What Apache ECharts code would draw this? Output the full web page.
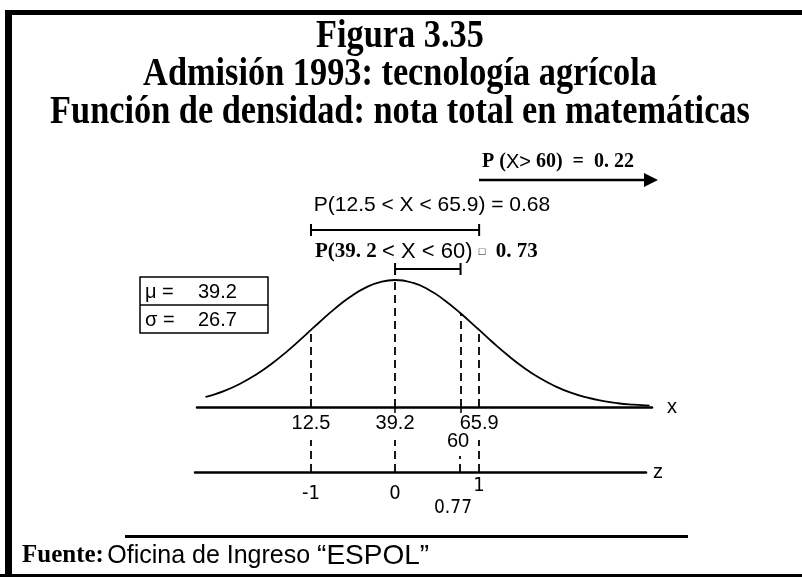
<!DOCTYPE html>
<html>
<head>
<meta charset="utf-8">
<script src="https://cdn.jsdelivr.net/npm/echarts@6/dist/echarts.min.js"></script>
<style>
  html, body { margin: 0; padding: 0; background: #fff; }
  #chart { width: 802px; height: 578px; }
</style>
</head>
<body>
<div id="chart"></div>
<script>
// curve: nota (x) and density x100
const curveX = [-21, -20, -15, -10, -5, 0, 5, 10, 12.5, 15, 20, 25, 30, 35, 39.2, 45, 50, 55, 60, 65, 65.9, 70, 75, 80, 85, 90, 95, 100, 105, 110, 115, 120];
const curveY = [0.118, 0.128, 0.190, 0.274, 0.380, 0.508, 0.658, 0.822, 0.907, 0.991, 1.154, 1.297, 1.408, 1.476, 1.494, 1.459, 1.377, 1.254, 1.103, 0.937, 0.907, 0.768, 0.608, 0.465, 0.343, 0.245, 0.168, 0.112, 0.072, 0.044, 0.027, 0.015];

const mu = '39.2';
const sigma = '26.7';
const cutX = [12.5, 39.2, 60, 65.9];
const cutZ = [-1, 0, 0.77, 1];
const xTickValues = [12.5, 39.2, 65.9];
const zTickValues = [-1, 0, 1];
const brackets = [[12.5, 65.9], [39.2, 60]];
const titleLines = ['Figura 3.35', 'Admisión 1993: tecnología agrícola', 'Función de densidad: nota total en matemáticas'];

const SERIF = '"Liberation Serif", "Times New Roman", serif';
const SANS = '"Liberation Sans", Arial, sans-serif';
const NARROW = '"Liberation Sans Narrow", "DejaVu Sans Condensed", "Liberation Sans", sans-serif';

const chart = echarts.init(document.getElementById('chart'));

const dashed = { color: '#000', type: [8, 5], width: 1.8 };

function txt(x, y, text, font, align, extra) {
  return Object.assign({
    type: 'text', x: x, y: y, silent: true,
    style: { text: text, font: font, fill: '#000', align: align || 'left', verticalAlign: 'middle', textAlign: align || 'left', textVerticalAlign: 'middle' }
  }, extra || {});
}

const graphics = [
  // frame
  { type: 'rect', shape: { x: 5, y: 10, width: 7, height: 567 }, style: { fill: '#000' }, silent: true },
  { type: 'rect', shape: { x: 5, y: 10, width: 797, height: 5 }, style: { fill: '#000' }, silent: true },
  { type: 'rect', shape: { x: 0, y: 574, width: 802, height: 3 }, style: { fill: '#000' }, silent: true },
  // footer rule
  { type: 'rect', shape: { x: 125, y: 535, width: 563, height: 3 }, style: { fill: '#000' }, silent: true },
  // P(X > 60) arrow
  { type: 'line', shape: { x1: 479, y1: 180, x2: 648, y2: 180 }, style: { stroke: '#000', lineWidth: 2.5 }, silent: true },
  { type: 'polygon', shape: { points: [[644, 173], [658, 180], [644, 187]] }, style: { fill: '#000' }, silent: true },
  // mu / sigma box
  { type: 'rect', shape: { x: 140, y: 277, width: 128, height: 56 }, style: { fill: 'none', stroke: '#000', lineWidth: 1.5 }, silent: true },
  { type: 'line', shape: { x1: 140, y1: 305, x2: 268, y2: 305 }, style: { stroke: '#000', lineWidth: 1.5 }, silent: true }
];

titleLines.forEach(function (t, i) {
  graphics.push(txt(400, 37 + i * 38, t, 'bold 39px ' + SERIF, 'center', { scaleX: 0.88 }));
});

graphics.push(txt(145, 292, 'μ =', '20px ' + SANS));
graphics.push(txt(198, 292, mu, '20px ' + SANS));
graphics.push(txt(145, 320, 'σ =', '20px ' + SANS));
graphics.push(txt(198, 320, sigma, '20px ' + SANS));

graphics.push({
  type: 'text', x: 558, y: 162, silent: true,
  style: {
    text: '{b|P (}{s|X>}{b| 60)  =  0. 22}', align: 'center', verticalAlign: 'middle',
    textAlign: 'center', textVerticalAlign: 'middle',
    rich: { b: { font: 'bold 20px ' + SERIF, fill: '#000' }, s: { font: '20px ' + SANS, fill: '#000' } }
  }
});
graphics.push(txt(432, 205, 'P(12.5 < X < 65.9) = 0.68', '21px ' + SANS, 'center'));
graphics.push({
  type: 'text', x: 315, y: 252, silent: true,
  style: {
    text: '{b|P(39. 2 }{s|< X < 60) }{q|□}{b|  0. 73}', align: 'left', verticalAlign: 'middle',
    textAlign: 'left', textVerticalAlign: 'middle',
    rich: {
      b: { font: 'bold 21px ' + SERIF, fill: '#000' },
      s: { font: '22px ' + SANS, fill: '#000' },
      q: { font: '11px ' + SANS, fill: '#000' }
    }
  }
});
graphics.push(txt(458, 441, '60', '20px ' + SANS, 'center'));
graphics.push(txt(453, 508, '0.77', '19px ' + NARROW, 'center'));
graphics.push({
  type: 'text', x: 22, y: 556, silent: true,
  style: {
    text: '{f|Fuente:} {o|Oficina de Ingreso }{e|“ESPOL”}', align: 'left', verticalAlign: 'middle',
    textAlign: 'left', textVerticalAlign: 'middle',
    rich: {
      f: { font: 'bold 25px ' + SERIF, fill: '#000' },
      o: { font: '25px ' + SANS, fill: '#000' },
      e: { font: '28px ' + SANS, fill: '#000' }
    }
  }
});

chart.setOption({
  animation: false,
  backgroundColor: '#fff',
  grid: [
    { left: 197, width: 455, top: 279.5, height: 127.5 },
    { left: 195, width: 451, top: 440, height: 32 }
  ],
  xAxis: [
    {
      type: 'value', gridIndex: 0, min: -23.7, max: 120.8,
      name: 'x', nameLocation: 'end', nameGap: 15,
      nameTextStyle: { fontSize: 20, color: '#000', fontFamily: SANS, verticalAlign: 'middle', padding: [0, 0, 6, 0] },
      axisLine: { lineStyle: { color: '#000', width: 2.5 } },
      axisTick: { show: true, customValues: [39.2, 60], length: 6, lineStyle: { color: '#000', width: 1.5 } },
      splitLine: { show: false },
      axisLabel: {
        customValues: xTickValues, margin: 6, color: '#000', fontSize: 20, fontFamily: SANS,
        formatter: function (v) { return String(v); }
      }
    },
    {
      type: 'value', gridIndex: 1, min: -2.378, max: 2.985,
      name: 'z', nameLocation: 'end', nameGap: 7,
      nameTextStyle: { fontSize: 20, color: '#000', fontFamily: SANS, verticalAlign: 'middle', padding: [0, 0, 6, 0] },
      axisLine: { lineStyle: { color: '#000', width: 2.5 } },
      axisTick: { show: false },
      splitLine: { show: false },
      axisLabel: {
        customValues: zTickValues, margin: 4, color: '#000',
        formatter: function (v) { return v === 1 ? '{u|1}' : '{n|' + v + '}'; },
        rich: {
          u: { fontSize: 20, fontFamily: NARROW, color: '#000' },
          n: { fontSize: 20, fontFamily: NARROW, color: '#000', padding: [8, 0, 0, 0] }
        }
      }
    }
  ],
  yAxis: [
    { type: 'value', gridIndex: 0, min: 0, max: 1.5, show: false },
    { type: 'value', gridIndex: 1, min: 0, max: 1, show: false }
  ],
  graphic: graphics,
  series: [
    {
      type: 'line', xAxisIndex: 0, yAxisIndex: 0, smooth: true, showSymbol: false, clip: false,
      data: curveX.map(function (x, i) { return [x, curveY[i]]; }),
      lineStyle: { color: '#000', width: 1.8 },
      markLine: {
        silent: true, symbol: 'none', label: { show: false }, lineStyle: dashed,
        data: cutX.map(function (x) {
          return [{ coord: [x, 0] }, { coord: [x, curveY[curveX.indexOf(x)]] }];
        })
      }
    },
    {
      type: 'line', xAxisIndex: 1, yAxisIndex: 1, showSymbol: false,
      data: cutZ.map(function (z) { return [z, 0]; }),
      lineStyle: { opacity: 0 },
      markLine: {
        silent: true, symbol: 'none', label: { show: false }, lineStyle: dashed,
        data: cutZ.map(function (z) {
          return [{ coord: [z, 0] }, { coord: [z, z === 0.77 ? 0.5 : 1] }];
        })
      }
    },
    {
      type: 'custom', xAxisIndex: 0, yAxisIndex: 0, clip: false,
      data: brackets,
      encode: { x: [0, 1] },
      renderItem: function (params, api) {
        const a = api.coord([api.value(0), 0])[0];
        const b = api.coord([api.value(1), 0])[0];
        const y = params.dataIndex === 0 ? 230 : 269;
        const st = { stroke: '#000', lineWidth: 2 };
        return {
          type: 'group',
          children: [
            { type: 'line', shape: { x1: a, y1: y, x2: b, y2: y }, style: st },
            { type: 'line', shape: { x1: a, y1: y - 6, x2: a, y2: y + 6 }, style: st },
            { type: 'line', shape: { x1: b, y1: y - 6, x2: b, y2: y + 6 }, style: st }
          ]
        };
      }
    }
  ]
});

window.addEventListener('resize', function () { chart.resize(); });
</script>
</body>
</html>
